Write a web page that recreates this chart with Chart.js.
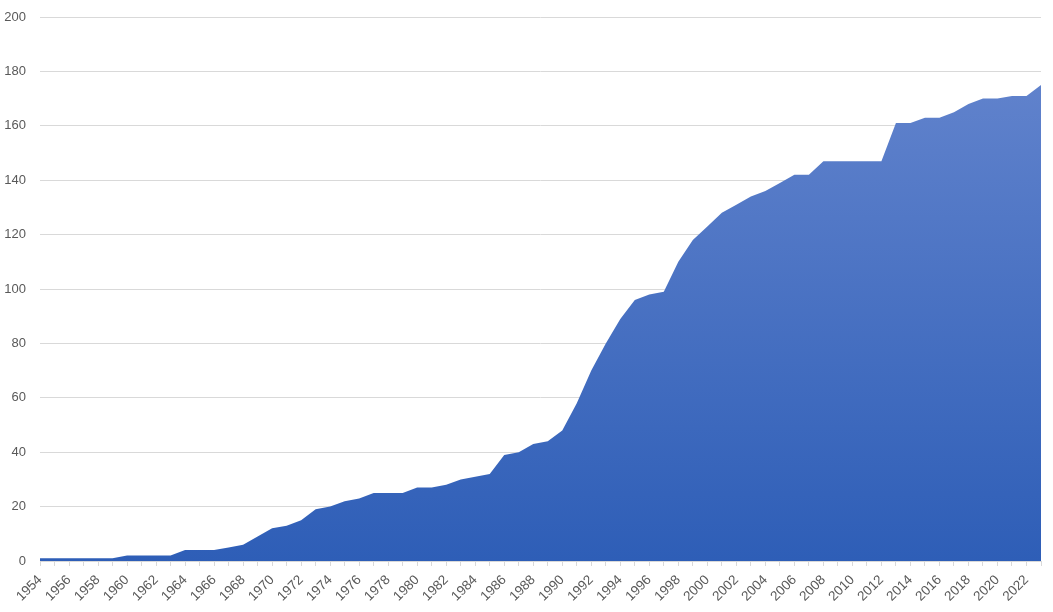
<!DOCTYPE html>
<html>
<head>
<meta charset="utf-8">
<script src="https://cdn.jsdelivr.net/npm/chart.js@4/dist/chart.umd.min.js"></script>
<style>
  html, body { margin: 0; padding: 0; background: #ffffff; }
  #wrap { width: 1053px; height: 612px; position: relative; }
</style>
</head>
<body>
<div id="wrap"><canvas id="c" width="1053" height="612"></canvas></div>
<script>
const years = [];
for (let y = 1954; y <= 2023; y++) years.push(String(y));

const values = [
  1, 1, 1, 1, 1, 1, 2, 2, 2, 2,
  4, 4, 4, 5, 6, 9, 12, 13, 15, 19,
  20, 22, 23, 25, 25, 25, 27, 27, 28, 30,
  31, 32, 39, 40, 43, 44, 48, 58, 70, 80,
  89, 96, 98, 99, 110, 118, 123, 128, 131, 134,
  136, 139, 142, 142, 147, 147, 147, 147, 147, 161,
  161, 163, 163, 165, 168, 170, 170, 171, 171, 175
];

const yTicks = [0, 20, 40, 60, 80, 100, 120, 140, 160, 180, 200];

const shadowPlugin = {
  id: 'areaShadow',
  beforeDatasetDraw(chart) {
    const ctx = chart.ctx;
    ctx.save();
    ctx.shadowColor = 'rgba(0,0,0,0.28)';
    ctx.shadowBlur = 4;
    ctx.shadowOffsetX = 1;
    ctx.shadowOffsetY = 1;
  },
  afterDatasetDraw(chart) {
    chart.ctx.restore();
  }
};

function gradientFill(context) {
  const chart = context.chart;
  const area = chart.chartArea;
  if (!area) return '#3a66bd';
  const yScale = chart.scales.y;
  const top = yScale.getPixelForValue(Math.max(...values));
  const g = chart.ctx.createLinearGradient(0, top, 0, area.bottom);
  g.addColorStop(0, 'rgb(96,130,204)');
  g.addColorStop(1, 'rgb(46,94,183)');
  return g;
}

new Chart(document.getElementById('c'), {
  type: 'line',
  data: {
    labels: years,
    datasets: [{
      data: values,
      fill: 'origin',
      backgroundColor: gradientFill,
      borderWidth: 0,
      borderColor: 'rgba(0,0,0,0)',
      pointRadius: 0,
      tension: 0
    }]
  },
  plugins: [shadowPlugin],
  options: {
    responsive: false,
    animation: false,
    layout: { padding: { left: 0, right: 12, top: 17, bottom: 0 } },
    plugins: { legend: { display: false }, tooltip: { enabled: false } },
    scales: {
      x: {
        type: 'category',
        offset: false,
        afterFit(s) { s.height = 51; s.paddingLeft = 0; s.paddingRight = 0; },
        grid: {
          display: true,
          drawOnChartArea: false,
          drawTicks: true,
          tickLength: 5,
          color: '#d9d9d9'
        },
        border: { display: true, color: '#d9d9d9', width: 1 },
        ticks: {
          autoSkip: false,
          maxRotation: 45,
          minRotation: 45,
          padding: 6,
          color: '#595959',
          font: { family: 'Liberation Sans', size: 13.5 },
          callback: function (val, idx) {
            return idx % 2 === 0 ? this.getLabelForValue(val) : '';
          }
        }
      },
      y: {
        min: 0,
        max: 200,
        afterFit(s) { s.width = 40; s.paddingTop = 0; s.paddingBottom = 0; },
        afterBuildTicks(scale) { scale.ticks = yTicks.map(v => ({ value: v })); },
        grid: { color: '#d9d9d9', drawTicks: false },
        border: { display: false },
        ticks: {
          padding: 14,
          color: '#595959',
          font: { family: 'Liberation Sans', size: 13 }
        }
      }
    }
  }
});
</script>
</body>
</html>
